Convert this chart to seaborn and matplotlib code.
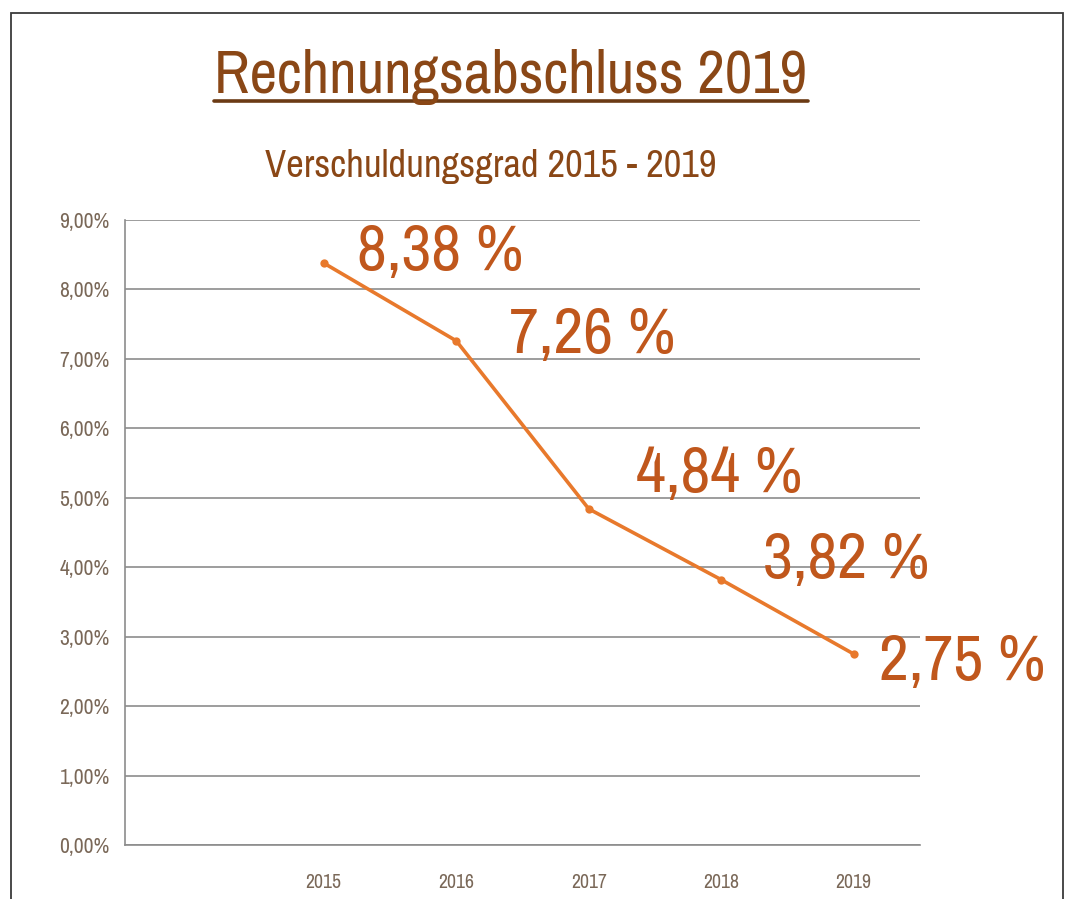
import matplotlib
matplotlib.use("Agg")
import matplotlib.pyplot as plt
import seaborn as sns
import pandas as pd
from matplotlib import font_manager
from matplotlib.patches import Rectangle
from matplotlib.lines import Line2D
from matplotlib.ticker import FuncFormatter, FixedLocator

# data
years = ["2015", "2016", "2017", "2018", "2019"]
debt_ratio = [8.38, 7.26, 4.84, 3.82, 2.75]
value_labels = ["8,38 %", "7,26 %", "4,84 %", "3,82 %", "2,75 %"]
categories = [" "] + years  # empty first slot like in the original

# label offsets in points (style only)
label_offsets = [(24, 8), (38, 4), (34, 25), (30, 14), (18, -6)]

sns.set_style("white")

# original uses Arial Narrow -> take the closest narrow font available
names = {f.name for f in font_manager.fontManager.ttflist}
narrow = [n for n in ["Liberation Sans Narrow", "Arial Narrow", "Archivo Narrow"] if n in names]
fams = narrow[:1] + ["Liberation Sans", "DejaVu Sans"]
plt.rcParams["font.family"] = fams

title_col = "#8a4716"
label_col = "#c0571c"
line_col = "#e8792c"
grid_col = "#8c8c8c"
tick_col = "#7a6858"

df = pd.DataFrame({"Jahr": years, "Verschuldungsgrad": debt_ratio})

fig = plt.figure(figsize=(10.85, 8.99), dpi=100)
ax = fig.add_axes([125 / 1085, 54 / 899, 795 / 1085, 625 / 899])

sns.pointplot(data=df, x="Jahr", y="Verschuldungsgrad", order=categories,
              color=line_col, markers="o", markersize=4, linewidth=2.6,
              errorbar=None, ax=ax)

ax.set_xlim(-0.5, len(categories) - 0.5)
ax.set_ylim(0, 9)
ax.set_yticks(range(0, 10))
ax.yaxis.set_major_formatter(FuncFormatter(lambda v, p: f"{v:.2f}%".replace(".", ",")))
ax.yaxis.grid(True, color=grid_col, linewidth=1.2)
ax.set_axisbelow(True)

# category boundary ticks on x
ax.xaxis.set_minor_locator(FixedLocator([i - 0.5 for i in range(len(categories) + 1)]))
ax.tick_params(axis="x", which="major", length=0, pad=20, labelsize=13, labelcolor=tick_col)
ax.tick_params(axis="x", which="minor", length=7, width=1, color=grid_col, direction="out")
ax.tick_params(axis="y", length=6, width=1, color=grid_col, labelsize=13, labelcolor=tick_col, pad=5)
ax.set_xlabel("")
ax.set_ylabel("")

for s in ["top", "right"]:
    ax.spines[s].set_visible(False)
for s in ["left", "bottom"]:
    ax.spines[s].set_color(grid_col)
    ax.spines[s].set_linewidth(1.2)

val_texts = []
for i, (val, txt) in enumerate(zip(debt_ratio, value_labels)):
    t = ax.annotate(txt, xy=(i + 1, val), xytext=label_offsets[i], textcoords="offset points",
                    ha="left", va="center", fontsize=44, color=label_col)
    val_texts.append(t)

# titles
title = fig.text(511 / 1085, 1 - 77 / 899, "Rechnungsabschluss 2019", ha="center", va="center",
                 fontsize=41, color=title_col)
sub = fig.text(491 / 1085, 1 - 167 / 899, "Verschuldungsgrad 2015 - 2019", ha="center", va="center",
               fontsize=27, color=title_col)

# scale font sizes so text widths match the original picture
fig.canvas.draw()
r = fig.canvas.get_renderer()


def fit(texts, width):
    k = width / texts[0].get_window_extent(r).width
    for t in texts:
        t.set_fontsize(t.get_fontsize() * k)


fit([title], 592)
fit([sub], 452)
fit(val_texts, 167)
fit([t for t in ax.get_xticklabels() if t.get_text().strip()], 36)
fit(ax.get_yticklabels(), 50)

fig.canvas.draw()
bb = title.get_window_extent(r).transformed(fig.transFigure.inverted())
fig.add_artist(Line2D([bb.x0, bb.x1], [1 - 101 / 899] * 2, transform=fig.transFigure,
                      color="#6b3a14", linewidth=2.6))

# frame around the slide
fig.add_artist(Rectangle((11 / 1085, -0.01), 1052 / 1085, 1 - 13 / 899 + 0.01,
                         transform=fig.transFigure, fill=False, edgecolor="#3a3a3a", linewidth=1.3))

fig.savefig("out.png", dpi=100, facecolor="white")
